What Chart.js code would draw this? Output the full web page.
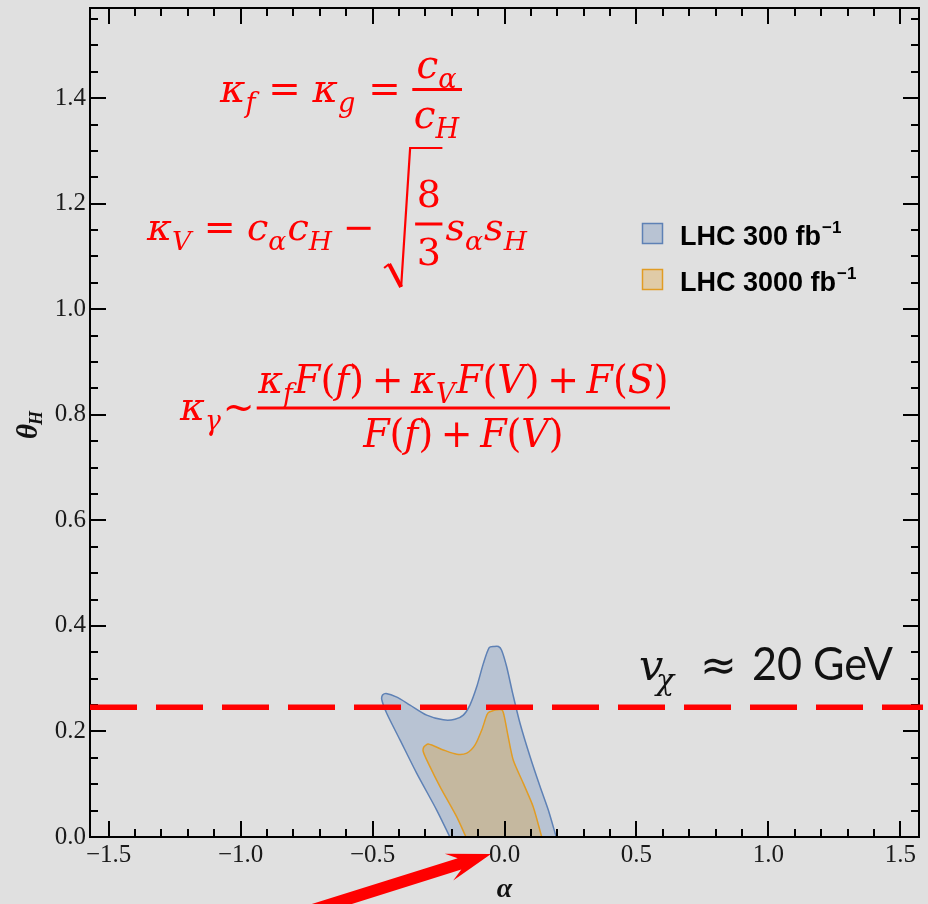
<!DOCTYPE html>
<html>
<head>
<meta charset="utf-8">
<script src="https://cdn.jsdelivr.net/npm/chart.js@4.4.1/dist/chart.umd.min.js"></script>
<style>
  html, body { margin: 0; padding: 0; background: #e0e0e0; }
  #wrap { width: 928px; height: 904px; position: relative; }
</style>
</head>
<body>
<div id="wrap"><canvas id="chart"></canvas></div>
<script>
// Axis ranges: alpha and theta_H in radians
const HALF_PI = Math.PI / 2;
const xTickValues = [-1.5, -1.0, -0.5, 0.0, 0.5, 1.0, 1.5];
const yTickValues = [0.0, 0.2, 0.4, 0.6, 0.8, 1.0, 1.2, 1.4];

// Allowed region, LHC 300 fb^-1 (outline, closed along theta_H = 0)
const lhc300Alpha = [-0.207, -0.257, -0.333, -0.396, -0.446, -0.465, -0.462, -0.449, -0.408, -0.358,
  -0.295, -0.232, -0.188, -0.156, -0.131, -0.105, -0.080, -0.058, -0.040, -0.023, -0.011, 0.008,
  0.031, 0.059, 0.097, 0.135, 0.166, 0.196];
const lhc300Theta = [0.000, 0.051, 0.121, 0.184, 0.234, 0.260, 0.269, 0.272, 0.265, 0.250,
  0.231, 0.222, 0.223, 0.231, 0.250, 0.285, 0.329, 0.359, 0.361, 0.361, 0.354, 0.323,
  0.272, 0.215, 0.152, 0.095, 0.051, 0.000];

// Allowed region, LHC 3000 fb^-1
const lhc3000Alpha = [-0.146, -0.181, -0.244, -0.289, -0.308, -0.305, -0.289, -0.232, -0.181, -0.143,
  -0.112, -0.086, -0.067, -0.058, -0.011, -0.002, 0.014, 0.033, 0.071, 0.109, 0.141];
const lhc3000Theta = [0.000, 0.038, 0.095, 0.140, 0.162, 0.171, 0.176, 0.165, 0.157, 0.159,
  0.174, 0.203, 0.231, 0.237, 0.241, 0.231, 0.190, 0.146, 0.102, 0.057, 0.000];

// theta_H corresponding to v_chi = 20 GeV
const vevTheta = 0.246;
const vevAlphaRange = [-HALF_PI, 1.586];

const seriesNames = ['LHC 300 fb', 'LHC 3000 fb'];
const seriesLine = ['rgb(94,129,181)', 'rgb(225,156,36)'];
const seriesFill = ['rgba(94,129,181,0.3)', 'rgba(225,156,36,0.3)'];

const toPoints = (xs, ys) => xs.map((v, i) => ({ x: v, y: ys[i] }));

const SERIF = '"Liberation Serif", serif';
const MATH = '"DejaVu Serif", serif';
const RED = '#ff0000';

// ---------- small math typesetting helpers ----------
function mfont(size, italic, bold, fam) {
  return (italic ? 'italic ' : '') + (bold ? 'bold ' : '') + size + 'px ' + (fam || MATH);
}
function layoutRun(ctx, items, size) {
  let w = 0;
  const out = [];
  for (const it of items) {
    if (it.gap !== undefined) { w += it.gap * size; continue; }
    const s = (it.sub || it.sup) ? size * 0.7 : size;
    ctx.font = mfont(s, it.i);
    const tw = ctx.measureText(it.t).width;
    out.push(Object.assign({}, it, { x: w, s: s, w: tw }));
    w += tw + (it.k || 0) * size;
  }
  return { items: out, w: w };
}
function drawRun(ctx, run, x, y, size) {
  for (const g of run.items) {
    ctx.font = mfont(g.s, g.i);
    const dy = g.sub ? size * 0.26 : (g.sup ? -size * 0.38 : 0);
    ctx.fillText(g.t, x + g.x, y + dy);
  }
}
function fraction(ctx, num, den, size) {
  const rn = layoutRun(ctx, num, size);
  const rd = layoutRun(ctx, den, size);
  const w = Math.max(rn.w, rd.w) + size * 0.08;
  return { rn, rd, w };
}
function drawFraction(ctx, fr, x, barY, size, numDrop, denDrop) {
  drawRun(ctx, fr.rn, x + (fr.w - fr.rn.w) / 2, barY - numDrop, size);
  drawRun(ctx, fr.rd, x + (fr.w - fr.rd.w) / 2, barY + denDrop, size);
  ctx.fillRect(x, barY - 1.5, fr.w, 3);
}

const I = (t, extra) => Object.assign({ t: t, i: 1 }, extra || {});
const U = (t) => ({ t: t });
const SUB = (t) => ({ t: t, i: 1, sub: 1, k: 0.03 });
const G = (g) => ({ gap: g });

function drawFormulas(ctx) {
  ctx.save();
  ctx.fillStyle = RED;
  ctx.strokeStyle = RED;
  ctx.textBaseline = 'alphabetic';
  ctx.textAlign = 'left';

  // kappa_f = kappa_g = c_alpha / c_H
  {
    const size = 39;
    const run = layoutRun(ctx, [I('κ'), SUB('f'), G(0.3), U('='), G(0.3), I('κ'), SUB('g'), G(0.3), U('='), G(0.3)], size);
    const fr = fraction(ctx, [I('c'), SUB('α')], [I('c'), SUB('H')], size);
    const natural = run.w + fr.w;
    const x0 = 220, x1 = 462, base = 102;
    ctx.save();
    ctx.translate(x0, 0);
    ctx.scale((x1 - x0) / natural, 1);
    drawRun(ctx, run, 0, base, size);
    drawFraction(ctx, fr, run.w, 89.5, size, 12, 38);
    ctx.restore();
  }

  // kappa_V = c_alpha c_H - sqrt(8/3) s_alpha s_H
  {
    const size = 38;
    const runA = layoutRun(ctx, [I('κ'), SUB('V'), G(0.3), U('='), G(0.3), I('c'), SUB('α'), I('c'), SUB('H'), G(0.25), U('−'), G(0.25)], size);
    const fr = fraction(ctx, [U('8')], [U('3')], size);
    const radW = 31;
    const runB = layoutRun(ctx, [G(0.08), I('s'), SUB('α'), I('s'), SUB('H')], size);
    const natural = runA.w + radW + fr.w + runB.w;
    const x0 = 147, x1 = 528, base = 240;
    ctx.save();
    ctx.translate(x0, 0);
    ctx.scale((x1 - x0) / natural, 1);
    drawRun(ctx, runA, 0, base, size);
    const fx = runA.w + radW;
    const barY = 224;
    drawFraction(ctx, fr, fx, barY, size, 17, 41);
    // radical sign
    ctx.lineJoin = 'miter';
    ctx.lineWidth = 2.2;
    ctx.beginPath();
    ctx.moveTo(fx - 31, barY + 44);
    ctx.lineTo(fx - 26, barY + 40);
    ctx.stroke();
    ctx.lineWidth = 4;
    ctx.beginPath();
    ctx.moveTo(fx - 26, barY + 40);
    ctx.lineTo(fx - 14, barY + 63);
    ctx.stroke();
    ctx.lineWidth = 2.2;
    ctx.beginPath();
    ctx.moveTo(fx - 14, barY + 63);
    ctx.lineTo(fx - 5, barY - 76);
    ctx.lineTo(fx + fr.w, barY - 76);
    ctx.stroke();
    drawRun(ctx, runB, fx + fr.w, base, size);
    ctx.restore();
  }

  // kappa_gamma ~ (kappa_f F(f) + kappa_V F(V) + F(S)) / (F(f) + F(V))
  {
    const size = 39;
    const run = layoutRun(ctx, [I('κ'), SUB('γ'), G(0.02), U('~'), G(0.06)], size);
    const fr = fraction(ctx,
      [I('κ'), SUB('f'), I('F'), U('('), I('f'), U(')'), G(0.2), U('+'), G(0.2),
       I('κ'), SUB('V'), I('F'), U('('), I('V'), U(')'), G(0.2), U('+'), G(0.2),
       I('F'), U('('), I('S'), U(')')],
      [I('F'), U('('), I('f'), U(')'), G(0.2), U('+'), G(0.2), I('F'), U('('), I('V'), U(')')],
      size);
    const natural = run.w + fr.w;
    const x0 = 180, x1 = 670, base = 420;
    ctx.save();
    ctx.translate(x0, 0);
    ctx.scale((x1 - x0) / natural, 1);
    drawRun(ctx, run, 0, base, size);
    drawFraction(ctx, fr, run.w, 408, size, 15, 39);
    ctx.restore();
  }
  ctx.restore();
}

function drawVevLabel(ctx) {
  ctx.save();
  ctx.fillStyle = '#111';
  ctx.textBaseline = 'alphabetic';
  ctx.textAlign = 'left';
  ctx.font = mfont(43, true);
  ctx.fillText('v', 639, 680);
  ctx.font = mfont(30, true);
  ctx.fillText('χ', 656, 690);
  ctx.font = '44px "DejaVu Sans", sans-serif';
  ctx.fillText('≈', 700, 680);
  // "20 GeV", set a little condensed
  ctx.font = '46px Lato, "Open Sans", sans-serif';
  const txt = '20 GeV';
  const w = ctx.measureText(txt).width;
  ctx.translate(752, 0);
  ctx.scale(141 / w, 1);
  ctx.fillText(txt, 0, 680);
  ctx.restore();
}

function drawLegend(ctx) {
  ctx.save();
  const rows = [223, 269];
  rows.forEach((top, i) => {
    ctx.fillStyle = '#e0e0e0';
    ctx.fillRect(642, top, 21, 21);
    ctx.fillStyle = seriesFill[i];
    ctx.fillRect(642, top, 21, 21);
    ctx.strokeStyle = seriesLine[i];
    ctx.lineWidth = 1.5;
    ctx.strokeRect(642.5, top + 0.5, 20, 20);
    ctx.fillStyle = '#000';
    ctx.textBaseline = 'alphabetic';
    ctx.font = 'bold 27px "Liberation Sans", Arial, sans-serif';
    const base = top + 22;
    ctx.fillText(seriesNames[i], 680, base);
    const w = ctx.measureText(seriesNames[i]).width;
    ctx.font = 'bold 17px "Liberation Sans", Arial, sans-serif';
    ctx.fillText('−1', 680 + w + 1, base - 12);
  });
  ctx.restore();
}

function drawAxisTitles(ctx, area) {
  ctx.save();
  ctx.fillStyle = '#111';
  ctx.textBaseline = 'alphabetic';
  ctx.textAlign = 'center';
  ctx.font = mfont(28, true, true, SERIF);
  ctx.fillText('α', (area.left + area.right) / 2, 897);
  // theta_H, rotated
  ctx.translate(37, 439);
  ctx.rotate(-Math.PI / 2);
  ctx.textAlign = 'left';
  ctx.font = mfont(29, true, true, SERIF);
  ctx.fillText('θ', 0, 0);
  const w = ctx.measureText('θ').width;
  ctx.font = mfont(18, true, true, SERIF);
  ctx.fillText('H', w - 1, 5);
  ctx.restore();
}

function drawArrow(ctx) {
  ctx.save();
  ctx.fillStyle = RED;
  const tip = { x: 491, y: 854 };
  const tail = { x: 300, y: 914 };
  const dx = tip.x - tail.x, dy = tip.y - tail.y;
  const L = Math.hypot(dx, dy);
  const ux = dx / L, uy = dy / L;     // along
  const nx = -uy, ny = ux;            // normal
  const P = (a, n) => [tip.x + ux * a + nx * n, tip.y + uy * a + ny * n];
  const pts = [
    P(0, 0), P(-44, 14), P(-33, 6), P(-L, 6), P(-L, -6), P(-33, -6), P(-44, -14)
  ];
  ctx.beginPath();
  ctx.moveTo(pts[0][0], pts[0][1]);
  for (let i = 1; i < pts.length; i++) ctx.lineTo(pts[i][0], pts[i][1]);
  ctx.closePath();
  ctx.fill();
  ctx.restore();
}

// Frame with inward major/minor ticks on all four sides
const framePlugin = {
  id: 'frame',
  afterDatasetDraw(chart, args) {
    if (args.index !== 1) return;
    const { ctx, chartArea: a, scales } = chart;
    const xs = scales.x, ys = scales.y;
    ctx.save();
    ctx.strokeStyle = '#000';
    ctx.lineWidth = 2;
    ctx.strokeRect(a.left, a.top, a.right - a.left, a.bottom - a.top);
    ctx.beginPath();
    for (let i = -15; i <= 15; i++) {
      const px = Math.round(xs.getPixelForValue(i / 10));
      const len = i % 5 === 0 ? 16 : 8;
      ctx.moveTo(px, a.bottom); ctx.lineTo(px, a.bottom - len);
      ctx.moveTo(px, a.top); ctx.lineTo(px, a.top + len);
    }
    for (let i = 0; i / 20 <= HALF_PI; i++) {
      const py = Math.round(ys.getPixelForValue(i / 20));
      const len = i % 4 === 0 ? 16 : 8;
      ctx.moveTo(a.left, py); ctx.lineTo(a.left + len, py);
      ctx.moveTo(a.right, py); ctx.lineTo(a.right - len, py);
    }
    ctx.stroke();
    ctx.restore();
  },
  afterDraw(chart) {
    const ctx = chart.ctx;
    drawFormulas(ctx);
    drawVevLabel(ctx);
    drawLegend(ctx);
    drawAxisTitles(ctx, chart.chartArea);
    drawArrow(ctx);
  }
};

const fmt = (v) => (v < 0 ? '−' : '') + Math.abs(v).toFixed(1);
const noEdgePadding = (s) => { s.paddingTop = 0; s.paddingBottom = 0; s.paddingLeft = 0; s.paddingRight = 0; };

new Chart(document.getElementById('chart'), {
  type: 'scatter',
  data: {
    datasets: [
      {
        label: 'v_chi = 20 GeV',
        data: [{ x: vevAlphaRange[0], y: vevTheta }, { x: vevAlphaRange[1], y: vevTheta }],
        showLine: true,
        borderColor: RED,
        borderWidth: 5.5,
        borderDash: [47, 19],
        borderCapStyle: 'butt',
        pointRadius: 0,
        fill: false,
        clip: false
      },
      {
        label: seriesNames[1],
        data: toPoints(lhc3000Alpha, lhc3000Theta),
        showLine: true,
        borderColor: seriesLine[1],
        backgroundColor: seriesFill[1],
        borderWidth: 1.5,
        pointRadius: 0,
        tension: 0.25,
        fill: 'shape'
      },
      {
        label: seriesNames[0],
        data: toPoints(lhc300Alpha, lhc300Theta),
        showLine: true,
        borderColor: seriesLine[0],
        backgroundColor: seriesFill[0],
        borderWidth: 1.5,
        pointRadius: 0,
        tension: 0.25,
        fill: 'shape'
      }
    ]
  },
  options: {
    responsive: true,
    maintainAspectRatio: false,
    animation: false,
    events: [],
    layout: { padding: { left: 0, top: 8, right: 9, bottom: 0 } },
    plugins: { legend: { display: false }, tooltip: { enabled: false } },
    scales: {
      x: {
        type: 'linear',
        min: -HALF_PI,
        max: HALF_PI,
        grid: { display: false, drawTicks: false },
        border: { display: false },
        afterFit: (s) => { s.height = 67; noEdgePadding(s); },
        afterBuildTicks: (s) => { s.ticks = xTickValues.map(v => ({ value: v })); },
        ticks: {
          padding: 3,
          maxRotation: 0,
          autoSkip: false,
          color: '#1a1a1a',
          font: { family: '"Liberation Serif"', size: 25 },
          callback: (v) => fmt(v)
        }
      },
      y: {
        type: 'linear',
        min: 0,
        max: HALF_PI,
        grid: { display: false, drawTicks: false },
        border: { display: false },
        afterFit: (s) => { s.width = 90; noEdgePadding(s); },
        afterBuildTicks: (s) => { s.ticks = yTickValues.map(v => ({ value: v })); },
        ticks: {
          padding: 4,
          autoSkip: false,
          color: '#1a1a1a',
          font: { family: '"Liberation Serif"', size: 25 },
          callback: (v) => fmt(v)
        }
      }
    }
  },
  plugins: [framePlugin]
});
</script>
</body>
</html>
